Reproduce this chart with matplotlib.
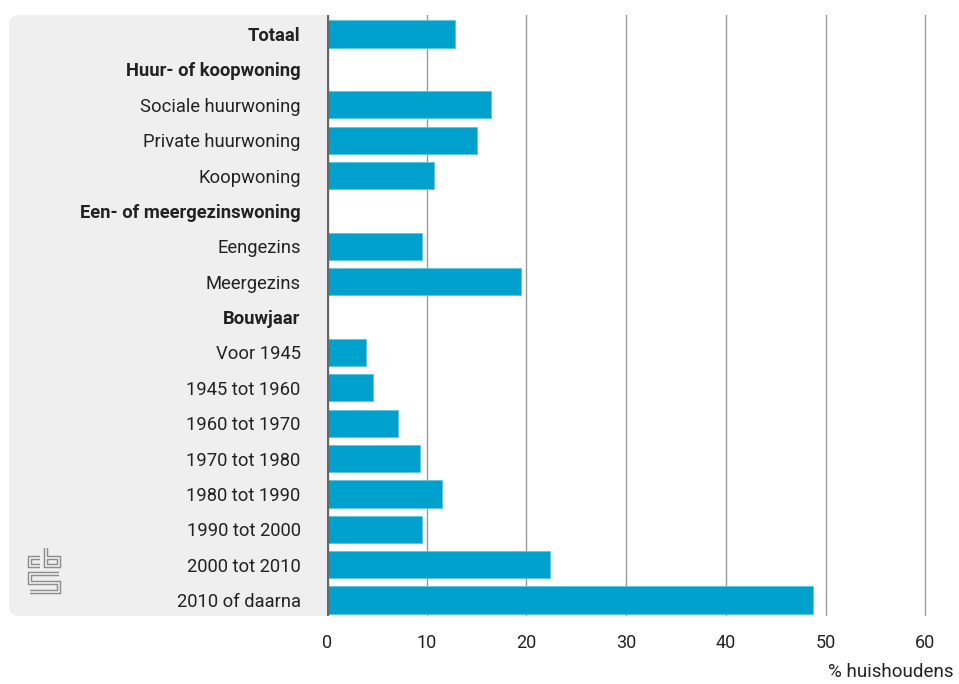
import matplotlib.pyplot as plt
from matplotlib.patches import FancyBboxPatch
from matplotlib.lines import Line2D

# categorieen en waarden (% huishoudens)
labels = ['Totaal', 'Huur- of koopwoning', 'Sociale huurwoning', 'Private huurwoning',
          'Koopwoning', 'Een- of meergezinswoning', 'Eengezins', 'Meergezins', 'Bouwjaar',
          'Voor 1945', '1945 tot 1960', '1960 tot 1970', '1970 tot 1980', '1980 tot 1990',
          '1990 tot 2000', '2000 tot 2010', '2010 of daarna']
values = [12.8, None, 16.4, 15.0, 10.7, None, 9.5, 19.5, None,
          3.9, 4.6, 7.1, 9.3, 11.5, 9.5, 22.4, 48.7]
bold = ['Totaal', 'Huur- of koopwoning', 'Een- of meergezinswoning', 'Bouwjaar']
xticks = [0, 10, 20, 30, 40, 50, 60]

plt.rcParams['font.family'] = ['Roboto', 'DejaVu Sans']

W, H = 959, 684
fig = plt.figure(figsize=(W / 100, H / 100), dpi=100)
ax = fig.add_axes([327 / W, 1 - 616 / H, (958 - 327) / W, (616 - 15) / H])

# grijs paneel achter de labels
panel = FancyBboxPatch((9 / W, 1 - 616 / H), (345 - 9) / W, (616 - 15) / H,
                       boxstyle='round,pad=0,rounding_size=0.012',
                       transform=fig.transFigure, facecolor='#efefef',
                       edgecolor='none', zorder=-1)
fig.add_artist(panel)

ypos = list(range(len(labels)))
for y, v in zip(ypos, values):
    if v is not None:
        ax.barh(y, v, height=0.77, color='#00a1cd', edgecolor='#5ec3df',
                linewidth=0.6, zorder=2)

ax.set_xlim(0, (958 - 327) / 9.97)
ax.set_ylim(16.45, -0.54)
ax.set_xticks(xticks)
ax.set_xticklabels([str(t) for t in xticks], fontsize=13, color='#222222')
for t in xticks[1:]:
    ax.axvline(t, color='#999999', linewidth=1.0, zorder=1)
ax.axvline(0, color='#666666', linewidth=2.4, zorder=3)

ax.set_yticks(ypos)
ax.set_yticklabels(labels, fontsize=13.2, color='#222222')
for lab in ax.get_yticklabels():
    if lab.get_text() in bold:
        lab.set_fontweight('bold')
ax.tick_params(axis='y', length=0, pad=19)
ax.tick_params(axis='x', length=0, pad=13)
for s in ax.spines.values():
    s.set_visible(False)

fig.text(954 / W, 1 - 672 / H, '% huishoudens', ha='right', va='center',
         fontsize=13.5, color='#222222')

# cbs logo (eenvoudige benadering)
logo = [
    [(40, 558), (30, 558), (30, 566), (40, 566)],
    [(46, 548), (46, 566), (59, 566), (59, 558), (46, 558)],
    [(59, 574), (30, 574), (30, 583), (59, 583), (59, 592), (30, 592)],
]
for pts in logo:
    xs = [p[0] / W for p in pts]
    ys = [1 - p[1] / H for p in pts]
    fig.add_artist(Line2D(xs, ys, transform=fig.transFigure, color='#8c8c8c',
                          linewidth=3.2, solid_joinstyle='miter', solid_capstyle='butt'))
    fig.add_artist(Line2D(xs, ys, transform=fig.transFigure, color='#efefef',
                          linewidth=1.2, solid_joinstyle='miter', solid_capstyle='butt'))

fig.savefig('out.png', dpi=100)
